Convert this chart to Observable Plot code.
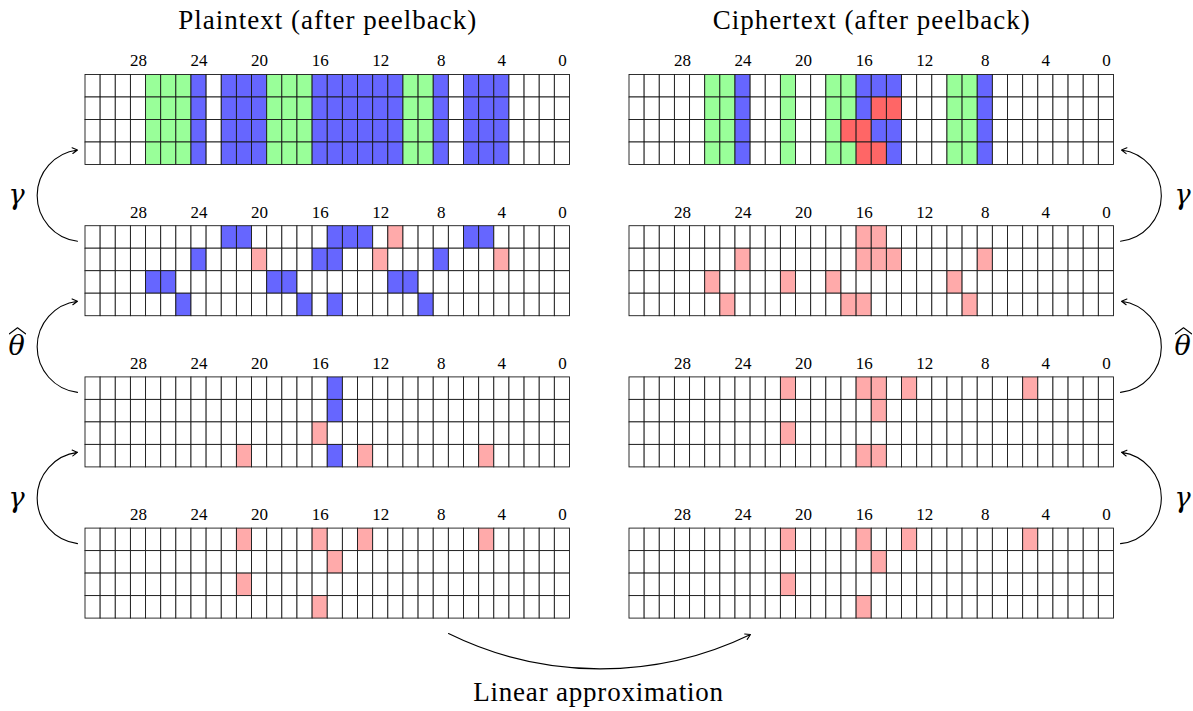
<!DOCTYPE html>
<html><head><meta charset="utf-8">
<script src="https://cdn.jsdelivr.net/npm/d3@7"></script>
<script src="https://cdn.jsdelivr.net/npm/@observablehq/plot@0.6"></script>
<style>body{margin:0;background:#fff}</style>
</head><body><div id="chart"></div>
<script>
// ---- data: each grid is 4 rows of 32 cells, bit 31 (left) ... bit 0 (right)
// codes: "." empty, "G" green, "B" blue, "R" red, "p" light red
const bitTicks = [28, 24, 20, 16, 12, 8, 4, 0];
const panelTitles = ["Plaintext (after peelback)", "Ciphertext (after peelback)"];
const arrowLabels = ["γ", "θ", "γ"];
const arrowLabelHat = [false, true, false];
const captionText = "Linear approximation";

const plain0 = [
  "....GGGB.BBBGGGBBBBBBGGB.BBB....",
  "....GGGB.BBBGGGBBBBBBGGB.BBB....",
  "....GGGB.BBBGGGBBBBBBGGB.BBB....",
  "....GGGB.BBBGGGBBBBBBGGB.BBB...."
];
const cipher0 = [
  ".....GGB..G..GGBBB...GGB........",
  ".....GGB..G..GGBRR...GGB........",
  ".....GGB..G..GRRBB...GGB........",
  ".....GGB..G..GGRRB...GGB........"
];
const plain1 = [
  ".........BB.....BBB.p....BB.....",
  ".......B...p...BB..p...B...p....",
  "....BB......BB......BB..........",
  "......B.......B.B.....B........."
];
const cipher1 = [
  "...............pp...............",
  ".......p.......ppp.....p........",
  ".....p....p..p.......p..........",
  "......p.......pp......p........."
];
const plain2 = [
  "................B...............",
  "................B...............",
  "...............p................",
  "..........p.....B.p.......p....."
];
const cipher2 = [
  "..........p....pp.p.......p.....",
  "................p...............",
  "..........p.....................",
  "...............pp..............."
];
const plain3 = [
  "..........p....p..p.......p.....",
  "................p...............",
  "..........p.....................",
  "...............p................"
];
const cipher3 = [
  "..........p....p..p.......p.....",
  "................p...............",
  "..........p.....................",
  "...............p................"
];
const colorCodes = [".", "G", "B", "R", "p"];
const colorValues = ["#ffffff", "#99ff99", "#6666ff", "#ff6666", "#ffaaaa"];

// ---- layout
const W = 1193, H = 711;
const gridX = {L: 85, R: 629};
const gridW = 484.5, cw = gridW / 32;
const rh = 22.5, gridH = 4 * rh;
const top0 = 74.5, step = 151.2;
const gridTop = (lvl) => top0 + lvl * step;

const panels = [
  {side: "L", level: 0, rows: plain0}, {side: "R", level: 0, rows: cipher0},
  {side: "L", level: 1, rows: plain1}, {side: "R", level: 1, rows: cipher1},
  {side: "L", level: 2, rows: plain2}, {side: "R", level: 2, rows: cipher2},
  {side: "L", level: 3, rows: plain3}, {side: "R", level: 3, rows: cipher3}
];
const cells = [];
for (const p of panels) {
  p.rows.forEach((str, r) => {
    for (let c = 0; c < 32; c++) cells.push({side: p.side, level: p.level, row: r, bit: 31 - c, code: str[c]});
  });
}
const ticks = [];
for (const p of panels) for (const b of bitTicks) ticks.push({side: p.side, level: p.level, bit: b, label: String(b)});

const cellX = (d, o = 0) => gridX[d.side] + (31 - d.bit + o) * cw;

const leftArrows = [], rightArrows = [], greek = [], hats = [];
for (let k = 0; k < 3; k++) {
  const yLow = gridTop(k + 1) + 15, yHigh = gridTop(k) + gridH - 15;
  leftArrows.push({x1: 77, y1: yLow, x2: 77, y2: yHigh});
  rightArrows.push({x1: 1120, y1: yLow, x2: 1121, y2: yHigh});
  const ym = (gridTop(k) + gridH + gridTop(k + 1)) / 2;
  for (const x of [16, 1182]) {
    greek.push({x, y: ym, t: arrowLabels[k]});
    if (arrowLabelHat[k]) {
      const id = hats.length;
      hats.push({id, x: x - 7, y: ym - 13}, {id, x: x + 1, y: ym - 19}, {id, x: x + 9, y: ym - 13});
    }
  }
}
const bottomArrow = [{x1: 448, y1: 633, x2: 750, y2: 634}];
const titles = panelTitles.map((t, i) => ({t, x: gridX[i ? "R" : "L"] + gridW / 2, y: 20}));
const caption = [{t: captionText, x: 598, y: 692}];

const serif = "Liberation Serif, DejaVu Serif, serif";
const chart = Plot.plot({
  width: W, height: H, margin: 0,
  x: {domain: [0, W], range: [0, W], axis: null},
  y: {domain: [0, H], range: [0, H], axis: null},
  color: {type: "ordinal", domain: colorCodes, range: colorValues},
  style: {background: "#fff"},
  marks: [
    Plot.rect(cells, {
      x1: d => cellX(d), x2: d => cellX(d, 1),
      y1: d => gridTop(d.level) + d.row * rh, y2: d => gridTop(d.level) + (d.row + 1) * rh,
      fill: "code", stroke: "#1a1a1a", strokeWidth: 0.9, inset: 0
    }),
    Plot.text(ticks, {x: d => cellX(d, 0.5), y: d => gridTop(d.level) - 14, text: "label",
      fontSize: 17, fontFamily: serif, fill: "#000"}),
    Plot.text(titles, {x: "x", y: "y", text: "t", fontSize: 27, fontFamily: serif, fill: "#000"}),
    Plot.text(caption, {x: "x", y: "y", text: "t", fontSize: 27, fontFamily: serif, fill: "#000"}),
    Plot.text(greek, {x: "x", y: "y", text: "t", fontSize: 27, fontStyle: "italic", fontFamily: "DejaVu Serif, serif", fill: "#000"}),
    Plot.line(hats, {x: "x", y: "y", z: "id", stroke: "#000", strokeWidth: 1.1}),
    Plot.arrow(leftArrows, {x1: "x1", y1: "y1", x2: "x2", y2: "y2", bend: 83, stroke: "#000", strokeWidth: 1.1, headLength: 8}),
    Plot.arrow(rightArrows, {x1: "x1", y1: "y1", x2: "x2", y2: "y2", bend: -83, stroke: "#000", strokeWidth: 1.1, headLength: 8}),
    Plot.arrow(bottomArrow, {x1: "x1", y1: "y1", x2: "x2", y2: "y2", bend: -26, stroke: "#000", strokeWidth: 1.1, headLength: 8})
  ]
});
d3.select(chart).selectAll("text")
  .filter(function () { return panelTitles.includes(this.textContent); })
  .attr("letter-spacing", "1px");
d3.select(chart).selectAll("text")
  .filter(function () { return this.textContent === captionText; })
  .attr("letter-spacing", "0.8px");
document.getElementById("chart").appendChild(chart);
</script>
</body></html>
